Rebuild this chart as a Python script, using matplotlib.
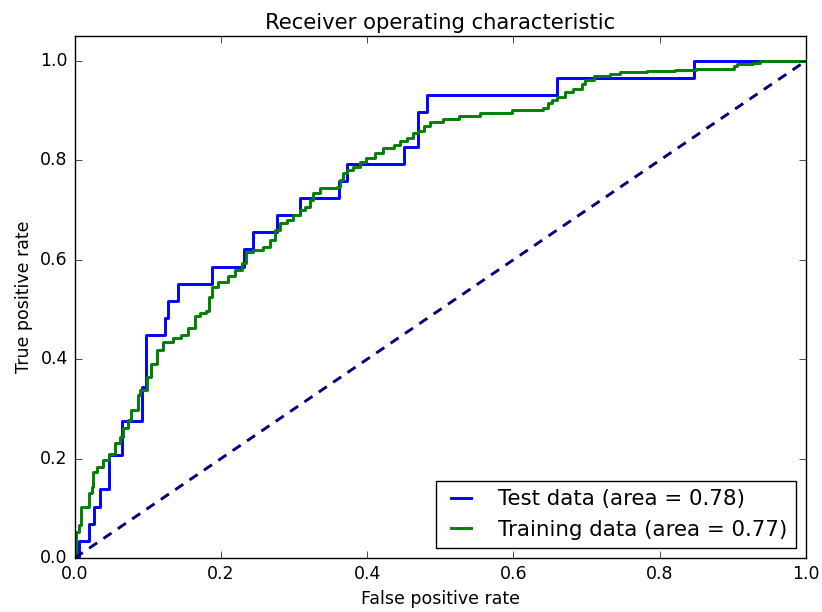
import matplotlib
matplotlib.use("Agg")
import matplotlib.pyplot as plt

plt.style.use("classic")

# ROC curve of the held-out test set (corner points, step drawn after each point)
test_fpr = [0.0, 0.006, 0.020, 0.027, 0.035, 0.047, 0.065, 0.092, 0.097, 0.123,
            0.128, 0.141, 0.188, 0.232, 0.244, 0.276, 0.308, 0.361, 0.373, 0.450,
            0.469, 0.482, 0.659, 0.847, 1.0]
test_tpr = [0.0, 0.0345, 0.069, 0.1034, 0.1379, 0.2069, 0.2759, 0.3448, 0.4483, 0.4828,
            0.5172, 0.5517, 0.5862, 0.6207, 0.6552, 0.6897, 0.7241, 0.7586, 0.7931, 0.8276,
            0.8966, 0.9310, 0.9655, 1.0, 1.0]

# ROC curve of the training set
train_fpr = [0.0, 0.002, 0.0055, 0.009, 0.019, 0.023, 0.025, 0.031, 0.039, 0.0465,
             0.055, 0.0615, 0.066, 0.073, 0.0775, 0.086, 0.089, 0.099, 0.104, 0.112,
             0.121, 0.135, 0.146, 0.155, 0.1645, 0.171, 0.180, 0.184, 0.188, 0.196,
             0.210, 0.219, 0.229, 0.234, 0.244, 0.258, 0.267, 0.274, 0.281, 0.290,
             0.299, 0.308, 0.315, 0.322, 0.326, 0.336, 0.358, 0.363, 0.367, 0.372,
             0.381, 0.390, 0.399, 0.411, 0.422, 0.436, 0.445, 0.454, 0.462, 0.470,
             0.477, 0.486, 0.504, 0.525, 0.554, 0.598, 0.641, 0.647, 0.653, 0.660,
             0.671, 0.682, 0.694, 0.698, 0.710, 0.732, 0.746, 0.783, 0.821, 0.849,
             0.901, 0.906, 0.928, 0.937, 1.0]
train_tpr = [0.0, 0.053, 0.066, 0.103, 0.130, 0.143, 0.174, 0.184, 0.197, 0.210,
             0.231, 0.244, 0.261, 0.278, 0.298, 0.328, 0.338, 0.365, 0.390, 0.418,
             0.435, 0.442, 0.449, 0.462, 0.486, 0.492, 0.497, 0.526, 0.546, 0.556,
             0.567, 0.579, 0.593, 0.615, 0.620, 0.626, 0.640, 0.660, 0.673, 0.680,
             0.690, 0.700, 0.707, 0.720, 0.734, 0.745, 0.747, 0.761, 0.774, 0.781,
             0.787, 0.797, 0.804, 0.814, 0.824, 0.831, 0.838, 0.844, 0.854, 0.858,
             0.868, 0.876, 0.883, 0.889, 0.896, 0.901, 0.906, 0.916, 0.922, 0.928,
             0.937, 0.944, 0.954, 0.961, 0.969, 0.973, 0.977, 0.979, 0.981, 0.984,
             0.989, 0.993, 0.996, 1.0, 1.0]

test_auc = 0.78
train_auc = 0.77
chance = [0.0, 1.0]

fig = plt.figure(figsize=(8.22, 6.12), dpi=100, facecolor="white")
ax = fig.add_axes([0.0909, 0.0882, 0.8896, 0.853])

ax.plot(test_fpr, test_tpr, color="b", lw=2.1, drawstyle="steps-post",
        label="Test data (area = %0.2f)" % test_auc)
ax.plot(train_fpr, train_tpr, color="g", lw=2.1, drawstyle="steps-post",
        label="Training data (area = %0.2f)" % train_auc)
ax.plot(chance, chance, color="navy", lw=2.1, linestyle="--", dashes=(7, 5.5))

ax.set_xlim(0.0, 1.0)
ax.set_ylim(0.0, 1.05)
ax.set_xticks([0.0, 0.2, 0.4, 0.6, 0.8, 1.0])
ax.set_yticks([0.0, 0.2, 0.4, 0.6, 0.8, 1.0])
ax.tick_params(labelsize=12.5, direction="in", length=5, top=True, right=True, pad=5)

ax.set_xlabel("False positive rate", fontsize=12.5)
ax.set_ylabel("True positive rate", fontsize=12.5)
ax.set_title("Receiver operating characteristic", fontsize=15.2)

leg = ax.legend(loc="lower right", fontsize=15.4, handlelength=1.5,
                handletextpad=1.0, borderaxespad=0.45, fancybox=False)
leg.get_frame().set_edgecolor("black")

fig.savefig("out.png", dpi=100, facecolor="white")
